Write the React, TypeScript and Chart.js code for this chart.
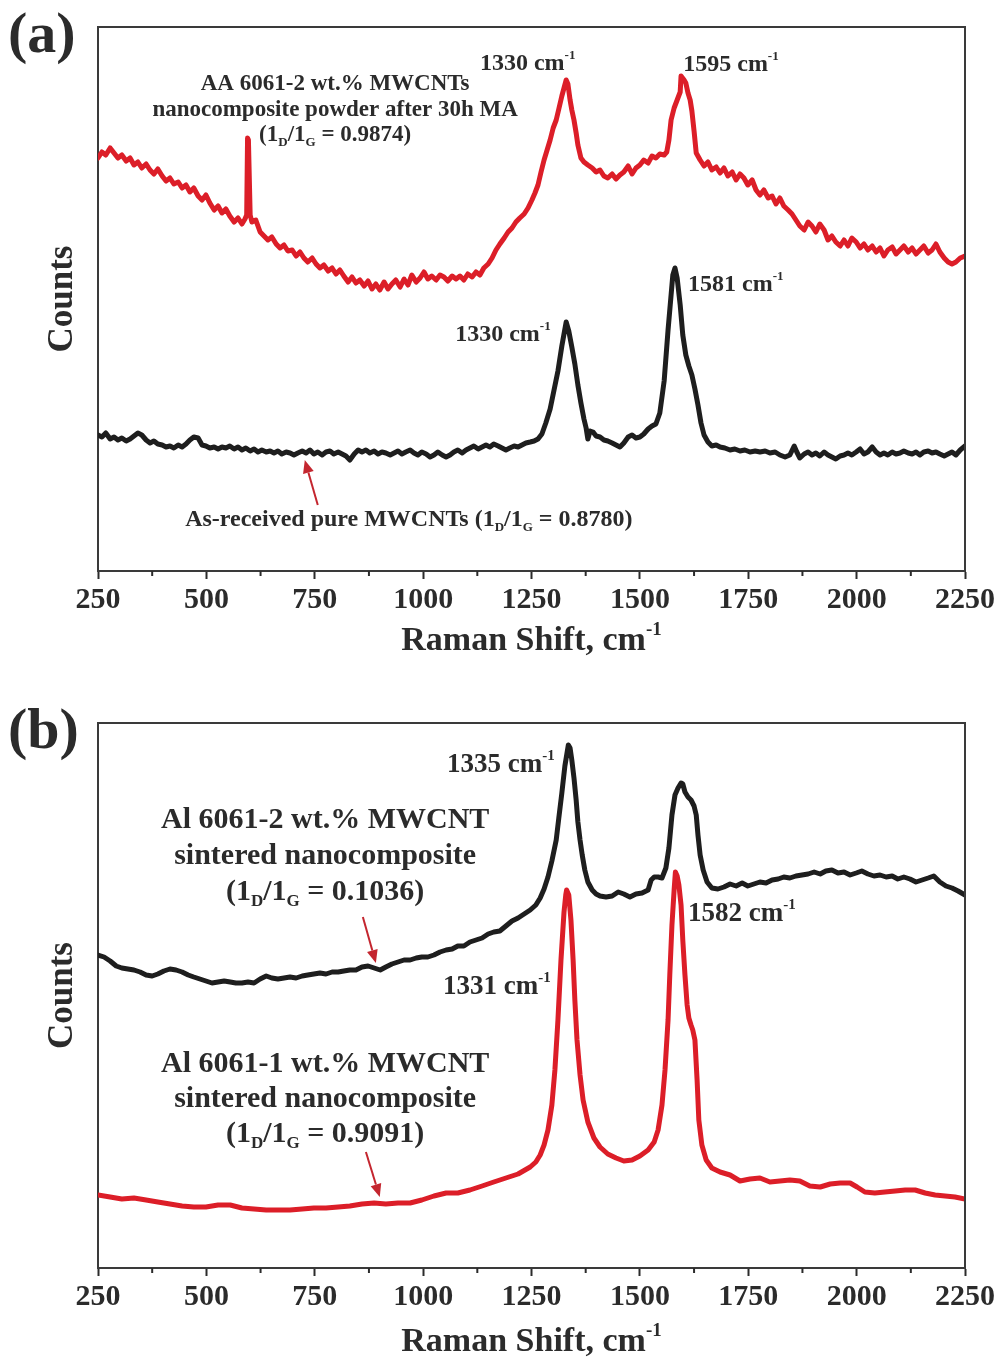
import React, { useEffect, useRef } from 'react';
import { Chart, registerables } from 'chart.js';

Chart.register(...registerables);

const SERIF = '"Liberation Serif", "Times New Roman", Times, serif';
const INK = '#2b2b2b';
const FRAME = '#3a3a3a';
const RED = '#dc1e28';
const ARROW = '#c4262f';

// Raman shift axis (cm^-1)
const SHIFT_MIN = 250;
const SHIFT_MAX = 2250;
const MAJOR_STEP = 250;
const MINOR_TICKS = [375, 625, 875, 1125, 1375, 1625, 1875, 2125];

// ---------- (a) spectra: [Raman shift, counts (a.u.)] ----------
const MA_POWDER_2WT: [number, number][] = [
  [250, 413], [259, 419], [268, 416], [278, 423], [287, 418], [296, 413], [305, 416], [315, 410], [324, 413], [333, 406],
  [342, 409], [351, 403], [361, 407], [370, 401], [379, 397], [388, 402], [398, 395], [407, 390], [416, 393], [425, 387],
  [435, 389], [444, 383], [453, 386], [462, 379], [471, 383], [481, 375], [490, 371], [499, 376], [508, 368], [518, 361],
  [527, 365], [536, 358], [545, 362], [554, 355], [564, 349], [573, 353], [582, 347], [589, 352], [593, 356], [595, 433],
  [597, 431], [601, 356], [605, 349], [614, 351], [624, 339], [633, 335], [642, 331], [651, 334], [661, 327], [670, 323],
  [679, 326], [688, 320], [698, 321], [707, 315], [716, 319], [725, 313], [734, 309], [744, 313], [753, 307], [762, 303],
  [771, 306], [781, 300], [790, 303], [799, 297], [808, 301], [817, 295], [827, 289], [836, 294], [845, 288], [854, 291],
  [864, 285], [873, 290], [882, 282], [891, 287], [900, 281], [910, 289], [919, 282], [928, 287], [937, 291], [947, 284],
  [956, 292], [965, 286], [974, 296], [984, 289], [993, 293], [1002, 299], [1011, 292], [1020, 295], [1030, 291], [1039, 296],
  [1048, 294], [1057, 290], [1067, 295], [1076, 292], [1085, 295], [1094, 291], [1103, 297], [1113, 294], [1122, 299], [1131, 296],
  [1140, 303], [1150, 307], [1159, 313], [1168, 321], [1177, 327], [1187, 333], [1196, 339], [1205, 343], [1214, 349], [1223, 353],
  [1233, 357], [1242, 363], [1251, 371], [1258, 378], [1265, 386], [1272, 399], [1279, 411], [1286, 421], [1293, 431], [1300, 443],
  [1307, 451], [1313, 462], [1320, 475], [1325, 483], [1330, 491], [1334, 487], [1339, 471], [1343, 461], [1348, 451], [1353, 438],
  [1357, 426], [1364, 413], [1371, 409], [1380, 406], [1390, 403], [1399, 399], [1408, 401], [1417, 395], [1426, 393], [1436, 397],
  [1445, 392], [1454, 396], [1463, 399], [1473, 405], [1482, 397], [1491, 403], [1500, 406], [1509, 411], [1519, 408], [1528, 415],
  [1537, 413], [1546, 417], [1556, 416], [1562, 419], [1567, 431], [1572, 451], [1579, 463], [1586, 471], [1593, 479], [1595, 495],
  [1602, 491], [1606, 488], [1611, 478], [1616, 471], [1620, 460], [1625, 440], [1630, 418], [1639, 411], [1648, 405], [1657, 409],
  [1666, 401], [1676, 404], [1685, 398], [1694, 403], [1703, 395], [1713, 399], [1722, 391], [1731, 397], [1740, 393], [1749, 386],
  [1759, 391], [1768, 381], [1777, 376], [1786, 381], [1796, 373], [1805, 375], [1814, 367], [1823, 373], [1832, 365], [1842, 361],
  [1851, 357], [1860, 351], [1869, 345], [1879, 341], [1888, 349], [1897, 345], [1906, 339], [1915, 347], [1925, 341], [1934, 331],
  [1943, 335], [1952, 329], [1962, 325], [1971, 331], [1980, 325], [1989, 333], [1999, 329], [2008, 323], [2017, 327], [2026, 321],
  [2036, 325], [2045, 319], [2054, 323], [2063, 315], [2072, 321], [2082, 324], [2091, 317], [2100, 321], [2109, 325], [2119, 319],
  [2128, 323], [2137, 317], [2146, 321], [2155, 325], [2165, 318], [2174, 321], [2183, 327], [2192, 319], [2202, 313], [2211, 309],
  [2220, 307], [2229, 309], [2239, 313], [2250, 315],
];

const PURE_MWCNT: [number, number][] = [
  [250, 136], [259, 134], [268, 138], [278, 132], [287, 134], [296, 131], [305, 133], [315, 130], [324, 132], [333, 135],
  [342, 138], [351, 136], [361, 131], [370, 128], [379, 130], [388, 127], [398, 126], [407, 124], [416, 125], [425, 123],
  [435, 126], [444, 124], [453, 127], [462, 131], [471, 134], [481, 133], [490, 126], [499, 125], [508, 123], [518, 124],
  [527, 122], [536, 124], [545, 123], [554, 125], [564, 122], [573, 124], [582, 121], [591, 123], [601, 120], [610, 122],
  [619, 119], [628, 121], [638, 119], [647, 120], [656, 118], [665, 120], [674, 117], [684, 119], [693, 118], [702, 116],
  [711, 118], [721, 120], [730, 118], [739, 121], [748, 117], [757, 119], [767, 116], [776, 119], [785, 120], [794, 117],
  [804, 119], [813, 117], [822, 115], [831, 111], [841, 117], [850, 121], [859, 119], [868, 121], [877, 118], [887, 120],
  [896, 117], [905, 119], [914, 118], [924, 116], [933, 118], [942, 120], [951, 117], [960, 119], [970, 121], [979, 118],
  [988, 116], [997, 119], [1007, 117], [1016, 114], [1025, 116], [1034, 119], [1044, 116], [1053, 114], [1062, 116], [1071, 119],
  [1080, 121], [1090, 118], [1099, 121], [1108, 123], [1117, 125], [1127, 122], [1136, 124], [1145, 126], [1154, 124], [1163, 127],
  [1173, 125], [1182, 123], [1191, 121], [1200, 123], [1210, 125], [1219, 124], [1228, 126], [1237, 128], [1247, 129], [1256, 130],
  [1265, 132], [1274, 137], [1283, 148], [1293, 162], [1302, 181], [1311, 200], [1320, 225], [1330, 249], [1336, 240], [1343, 224],
  [1350, 207], [1357, 186], [1364, 168], [1371, 152], [1376, 143], [1380, 132], [1385, 140], [1392, 139], [1399, 135], [1408, 134],
  [1417, 131], [1426, 130], [1436, 128], [1445, 126], [1454, 124], [1463, 128], [1473, 134], [1482, 136], [1491, 133], [1500, 134],
  [1509, 137], [1519, 142], [1528, 145], [1537, 147], [1546, 158], [1556, 190], [1565, 241], [1572, 276], [1576, 296], [1581, 303],
  [1586, 293], [1593, 266], [1599, 236], [1606, 216], [1613, 205], [1620, 196], [1627, 182], [1634, 166], [1641, 148], [1648, 136],
  [1657, 129], [1666, 125], [1676, 126], [1685, 124], [1696, 123], [1708, 121], [1719, 122], [1731, 120], [1742, 121], [1754, 119],
  [1766, 120], [1777, 119], [1789, 120], [1800, 118], [1812, 119], [1823, 116], [1835, 114], [1846, 116], [1856, 125], [1862, 119],
  [1869, 113], [1879, 117], [1888, 119], [1897, 116], [1906, 118], [1915, 115], [1925, 119], [1934, 116], [1943, 114], [1952, 112],
  [1962, 115], [1971, 116], [1980, 118], [1989, 116], [1999, 119], [2008, 122], [2017, 117], [2026, 119], [2036, 124], [2045, 119],
  [2054, 116], [2063, 118], [2072, 116], [2082, 119], [2091, 117], [2100, 118], [2109, 120], [2119, 118], [2128, 117], [2137, 119],
  [2146, 116], [2155, 119], [2165, 120], [2174, 118], [2183, 119], [2192, 117], [2202, 115], [2211, 117], [2220, 119], [2229, 116],
  [2239, 121], [2250, 125],
];

// ---------- (b) spectra: [Raman shift, counts (a.u.)] ----------
const SINTERED_2WT: [number, number][] = [
  [250, 313], [264, 311], [278, 307], [292, 302], [305, 300], [319, 299], [333, 298], [347, 296], [361, 293], [375, 292],
  [388, 294], [402, 297], [416, 299], [430, 298], [444, 296], [458, 293], [471, 291], [485, 289], [499, 287], [513, 285],
  [527, 286], [541, 287], [555, 286], [568, 285], [582, 285], [596, 286], [610, 285], [624, 289], [638, 292], [651, 290],
  [665, 289], [679, 290], [693, 291], [707, 290], [721, 292], [734, 293], [748, 294], [762, 295], [776, 294], [790, 296],
  [804, 296], [817, 297], [831, 298], [845, 298], [859, 301], [873, 302], [887, 300], [901, 298], [914, 301], [928, 304],
  [942, 306], [956, 308], [970, 308], [984, 310], [997, 311], [1011, 311], [1025, 313], [1039, 316], [1053, 318], [1067, 319],
  [1080, 322], [1094, 322], [1108, 326], [1122, 328], [1136, 330], [1150, 334], [1163, 336], [1177, 337], [1191, 342], [1205, 347],
  [1219, 350], [1233, 354], [1247, 358], [1260, 363], [1270, 370], [1279, 379], [1288, 391], [1297, 407], [1307, 428], [1313, 450],
  [1320, 475], [1327, 502], [1335, 523], [1339, 520], [1343, 508], [1348, 490], [1353, 468], [1357, 446], [1362, 428], [1367, 413],
  [1373, 398], [1380, 386], [1390, 378], [1399, 374], [1408, 372], [1422, 371], [1436, 372], [1450, 376], [1463, 374], [1477, 371],
  [1491, 374], [1505, 375], [1519, 378], [1526, 388], [1533, 391], [1542, 391], [1551, 390], [1560, 400], [1567, 420], [1574, 453],
  [1581, 473], [1588, 480], [1595, 485], [1599, 484], [1604, 476], [1611, 471], [1618, 468], [1625, 462], [1630, 453], [1634, 433],
  [1639, 413], [1646, 398], [1655, 386], [1666, 380], [1680, 379], [1694, 381], [1708, 384], [1722, 382], [1736, 385], [1749, 382],
  [1763, 384], [1777, 386], [1791, 385], [1805, 388], [1819, 389], [1832, 391], [1846, 390], [1860, 392], [1874, 393], [1888, 394],
  [1902, 396], [1916, 394], [1929, 397], [1943, 398], [1957, 395], [1971, 396], [1985, 393], [1999, 395], [2012, 397], [2026, 394],
  [2040, 392], [2054, 393], [2068, 391], [2082, 392], [2095, 389], [2109, 391], [2123, 389], [2137, 386], [2151, 388], [2165, 390],
  [2178, 392], [2192, 386], [2206, 382], [2220, 380], [2234, 377], [2250, 373],
];

const SINTERED_1WT: [number, number][] = [
  [250, 73], [278, 71], [305, 69], [333, 70], [361, 68], [388, 66], [416, 64], [444, 62], [471, 61], [499, 61],
  [527, 63], [555, 63], [582, 60], [610, 59], [638, 58], [665, 58], [693, 58], [721, 59], [748, 60], [776, 60],
  [804, 61], [831, 62], [859, 64], [887, 65], [914, 64], [942, 65], [970, 65], [997, 68], [1025, 72], [1053, 75],
  [1080, 75], [1108, 78], [1136, 82], [1163, 86], [1191, 90], [1219, 94], [1247, 101], [1260, 106], [1270, 113], [1279, 123],
  [1288, 138], [1297, 163], [1304, 198], [1311, 248], [1318, 308], [1325, 356], [1329, 373], [1331, 378], [1336, 373], [1341, 348],
  [1346, 308], [1350, 268], [1355, 228], [1362, 193], [1369, 168], [1380, 146], [1394, 130], [1408, 121], [1426, 114], [1445, 110],
  [1463, 107], [1482, 108], [1500, 112], [1519, 118], [1533, 126], [1542, 138], [1551, 163], [1558, 198], [1565, 248], [1569, 293],
  [1574, 343], [1579, 378], [1582, 396], [1586, 392], [1590, 383], [1595, 363], [1599, 328], [1604, 293], [1609, 263], [1613, 250],
  [1618, 243], [1622, 238], [1627, 228], [1632, 188], [1636, 148], [1643, 123], [1653, 108], [1666, 100], [1685, 96], [1708, 93],
  [1731, 87], [1754, 89], [1777, 90], [1800, 86], [1823, 87], [1846, 88], [1869, 87], [1892, 82], [1916, 81], [1939, 84],
  [1962, 85], [1985, 85], [2001, 81], [2019, 76], [2042, 75], [2065, 76], [2089, 77], [2112, 78], [2135, 78], [2158, 75],
  [2181, 73], [2204, 72], [2227, 71], [2250, 69],
];

type Run = { t: string; sub?: boolean; sup?: boolean };
type TextNote = { runs: Run[]; shift: number; counts: number; size: number; align: 'left' | 'center' };
type ArrowNote = { from: [number, number]; to: [number, number] };
type Series = { points: [number, number][]; color: string };
type PanelSpec = {
  tag: string;
  series: Series[];
  countsMax: number;
  padTop: number;
  axisHeight: number;
  titleGap: number;
  notes: TextNote[];
  arrows: ArrowNote[];
};

const cm1 = (v: string): Run[] => [{ t: `${v} cm` }, { t: '-1', sup: true }];
const ratio = (prefix: string, value: string): Run[] => [
  { t: `${prefix}(1` }, { t: 'D', sub: true }, { t: '/1' }, { t: 'G', sub: true }, { t: ` = ${value})` },
];

const PANEL_A: PanelSpec = {
  tag: '(a)',
  series: [
    { points: MA_POWDER_2WT, color: RED },
    { points: PURE_MWCNT, color: '#1e1e1e' },
  ],
  countsMax: 544,
  padTop: 27,
  axisHeight: 104,
  titleGap: 79,
  notes: [
    { runs: [{ t: 'AA 6061-2 wt.% MWCNTs' }], shift: 797, counts: 481, size: 23, align: 'center' },
    { runs: [{ t: 'nanocomposite powder after 30h MA' }], shift: 797, counts: 455, size: 23, align: 'center' },
    { runs: ratio('', '0.9874'), shift: 797, counts: 430, size: 23, align: 'center' },
    { runs: cm1('1330'), shift: 1131, counts: 501, size: 24, align: 'left' },
    { runs: cm1('1595'), shift: 1600, counts: 500, size: 24, align: 'left' },
    { runs: cm1('1581'), shift: 1611, counts: 280, size: 24, align: 'left' },
    { runs: cm1('1330'), shift: 1074, counts: 230, size: 24, align: 'left' },
    { runs: ratio('As-received pure MWCNTs ', '0.8780'), shift: 451, counts: 45, size: 24, align: 'left' },
  ],
  arrows: [{ from: [757, 66], to: [727, 111] }],
};

const PANEL_B: PanelSpec = {
  tag: '(b)',
  series: [
    { points: SINTERED_1WT, color: RED },
    { points: SINTERED_2WT, color: '#1e1e1e' },
  ],
  countsMax: 545,
  padTop: 48,
  axisHeight: 89,
  titleGap: 83,
  notes: [
    { runs: [{ t: 'Al 6061-2 wt.% MWCNT' }], shift: 774, counts: 440, size: 30, align: 'center' },
    { runs: [{ t: 'sintered nanocomposite' }], shift: 774, counts: 404, size: 30, align: 'center' },
    { runs: ratio('', '0.1036'), shift: 774, counts: 368, size: 30, align: 'center' },
    { runs: cm1('1335'), shift: 1055, counts: 496, size: 27, align: 'left' },
    { runs: cm1('1582'), shift: 1611, counts: 347, size: 27, align: 'left' },
    { runs: cm1('1331'), shift: 1046, counts: 274, size: 27, align: 'left' },
    { runs: [{ t: 'Al 6061-1 wt.% MWCNT' }], shift: 774, counts: 196, size: 30, align: 'center' },
    { runs: [{ t: 'sintered nanocomposite' }], shift: 774, counts: 161, size: 30, align: 'center' },
    { runs: ratio('', '0.9091'), shift: 774, counts: 126, size: 30, align: 'center' },
  ],
  arrows: [
    { from: [861, 351], to: [891, 305] },
    { from: [868, 116], to: [900, 71] },
  ],
};

function drawRuns(
  ctx: CanvasRenderingContext2D,
  runs: Run[],
  x: number,
  y: number,
  size: number,
  align: 'left' | 'center',
) {
  const base = `bold ${size}px ${SERIF}`;
  const small = `bold ${Math.round(size * 0.55)}px ${SERIF}`;
  const widths = runs.map((r) => {
    ctx.font = r.sub || r.sup ? small : base;
    return ctx.measureText(r.t).width;
  });
  const total = widths.reduce((s, w) => s + w, 0);
  let cx = align === 'center' ? x - total / 2 : x;
  ctx.textAlign = 'left';
  ctx.textBaseline = 'alphabetic';
  ctx.fillStyle = INK;
  runs.forEach((r, i) => {
    ctx.font = r.sub || r.sup ? small : base;
    const dy = r.sub ? size * 0.2 : r.sup ? -size * 0.45 : 0;
    ctx.fillText(r.t, cx, y + dy);
    cx += widths[i];
  });
}

function drawArrow(ctx: CanvasRenderingContext2D, x1: number, y1: number, x2: number, y2: number) {
  const ang = Math.atan2(y2 - y1, x2 - x1);
  const head = 13;
  const half = 5.5;
  const bx = x2 - head * Math.cos(ang);
  const by = y2 - head * Math.sin(ang);
  ctx.strokeStyle = ARROW;
  ctx.fillStyle = ARROW;
  ctx.lineWidth = 2;
  ctx.beginPath();
  ctx.moveTo(x1, y1);
  ctx.lineTo(bx, by);
  ctx.stroke();
  ctx.beginPath();
  ctx.moveTo(x2, y2);
  ctx.lineTo(bx + half * Math.sin(ang), by - half * Math.cos(ang));
  ctx.lineTo(bx - half * Math.sin(ang), by + half * Math.cos(ang));
  ctx.closePath();
  ctx.fill();
}

function decorations(spec: PanelSpec) {
  return {
    id: 'panelDecor',
    afterDraw(chart: Chart) {
      const { ctx, chartArea: a } = chart;
      const xs = chart.scales.x;
      const ys = chart.scales.y;
      ctx.save();

      // closing frame: top and right edges
      ctx.strokeStyle = FRAME;
      ctx.lineWidth = 2;
      ctx.beginPath();
      ctx.moveTo(a.left, a.top);
      ctx.lineTo(a.right, a.top);
      ctx.lineTo(a.right, a.bottom);
      ctx.stroke();

      // short minor ticks between the labelled ones
      ctx.strokeStyle = INK;
      for (const v of MINOR_TICKS) {
        const px = xs.getPixelForValue(v);
        ctx.beginPath();
        ctx.moveTo(px, a.bottom);
        ctx.lineTo(px, a.bottom + 5);
        ctx.stroke();
      }

      // x-axis title with superscript
      drawRuns(ctx, [{ t: 'Raman Shift, cm' }, { t: '-1', sup: true }], (a.left + a.right) / 2, a.bottom + spec.titleGap, 34, 'center');

      // panel tag
      ctx.font = `bold 58px ${SERIF}`;
      ctx.fillStyle = INK;
      ctx.textAlign = 'left';
      ctx.textBaseline = 'middle';
      ctx.fillText(spec.tag, 8, a.top + 10);

      for (const n of spec.notes) {
        drawRuns(ctx, n.runs, xs.getPixelForValue(n.shift), ys.getPixelForValue(n.counts), n.size, n.align);
      }
      for (const ar of spec.arrows) {
        drawArrow(
          ctx,
          xs.getPixelForValue(ar.from[0]), ys.getPixelForValue(ar.from[1]),
          xs.getPixelForValue(ar.to[0]), ys.getPixelForValue(ar.to[1]),
        );
      }
      ctx.restore();
    },
  };
}

function Panel({ spec, top, height }: { spec: PanelSpec; top: number; height: number }) {
  const ref = useRef<HTMLCanvasElement>(null);

  useEffect(() => {
    const canvas = ref.current;
    if (!canvas) return;
    const chart = new Chart(canvas, {
      type: 'line',
      data: {
        datasets: spec.series.map((s) => ({
          data: s.points.map(([x, y]) => ({ x, y })),
          borderColor: s.color,
          borderWidth: 5,
          pointRadius: 0,
          tension: 0,
          fill: false,
          borderJoinStyle: 'round' as const,
          borderCapStyle: 'round' as const,
        })),
      },
      options: {
        responsive: false,
        animation: false,
        devicePixelRatio: 1,
        layout: { padding: { top: spec.padTop, right: 37, left: 0, bottom: 0 } },
        plugins: { legend: { display: false }, tooltip: { enabled: false } },
        scales: {
          x: {
            type: 'linear',
            min: SHIFT_MIN,
            max: SHIFT_MAX,
            ticks: {
              stepSize: MAJOR_STEP,
              autoSkip: false,
              maxRotation: 0,
              padding: 3,
              color: INK,
              font: { family: SERIF, size: 30, weight: 'bold' },
              callback: (v: number | string) => String(v),
            },
            grid: { drawOnChartArea: false, drawTicks: true, tickLength: 8, tickWidth: 2, tickColor: INK },
            border: { display: true, color: FRAME, width: 2 },
            afterFit: (s: any) => { s.height = spec.axisHeight; },
          },
          y: {
            type: 'linear',
            min: 0,
            max: spec.countsMax,
            ticks: { display: false },
            grid: { display: false },
            border: { display: true, color: FRAME, width: 2 },
            title: {
              display: true,
              text: 'Counts',
              color: INK,
              font: { family: SERIF, size: 35, weight: 'bold' },
              padding: { top: 42, bottom: 0 },
            },
            afterFit: (s: any) => { s.width = 98; },
          },
        },
      },
      plugins: [decorations(spec)],
    });
    return () => chart.destroy();
  }, [spec]);

  return (
    <canvas
      ref={ref}
      width={1002}
      height={height}
      style={{ position: 'absolute', left: 0, top, width: 1002, height, display: 'block' }}
    />
  );
}

export default function App() {
  return (
    <div style={{ position: 'absolute', left: 0, top: 0, width: 1002, height: 1357, background: '#ffffff' }}>
      <Panel spec={PANEL_A} top={0} height={675} />
      <Panel spec={PANEL_B} top={675} height={682} />
    </div>
  );
}
